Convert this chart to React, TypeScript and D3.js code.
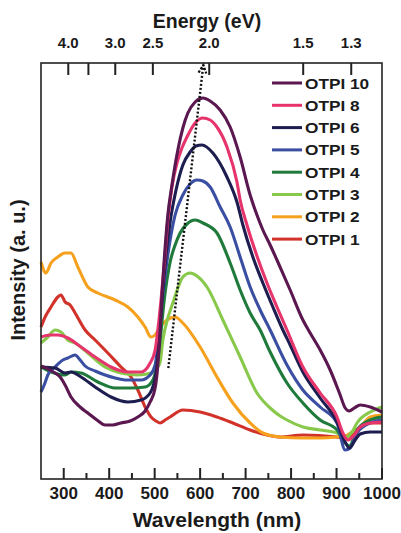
import * as d3 from "d3";

// wavelength (nm) vs intensity (a.u.)
const otpi10 = [[250,113],[270,109],[281,106],[292,102],[303,94],[316,82],[336,72],[353,66],[373,59],[391,54],[408,54],[426,56],[446,58],[463,62],[479,68],[490,77],[501,91],[507,114],[512,149],[516,184],[521,219],[529,264],[538,294],[551,329],[562,351],[573,366],[589,377],[606,381],[622,378],[644,369],[666,352],[688,322],[710,284],[725,264],[738,249],[754,234],[769,219],[798,189],[826,159],[842,146],[864,129],[886,109],[908,84],[919,71],[928,68],[939,71],[952,74],[974,72],[1000,67]];
const otpi8 = [[250,142],[270,144],[287,144],[309,141],[338,132],[369,122],[404,112],[441,107],[470,107],[490,116],[501,129],[507,149],[514,179],[521,214],[529,259],[538,292],[549,316],[560,331],[571,342],[589,356],[606,361],[622,359],[637,352],[659,332],[681,297],[688,279],[703,254],[725,223],[747,196],[769,172],[791,149],[826,112],[864,86],[901,62],[914,46],[925,39],[939,44],[952,52],[974,56],[1000,57]];
const otpi6 = [[250,112],[281,111],[303,106],[316,107],[338,102],[369,92],[404,82],[441,77],[470,79],[490,86],[503,106],[510,139],[516,179],[525,224],[534,257],[547,289],[562,314],[578,327],[591,333],[604,334],[628,326],[659,302],[681,277],[694,254],[716,222],[738,196],[760,172],[782,149],[798,134],[826,107],[864,81],[901,57],[919,37],[928,31],[941,39],[952,45],[974,47],[1000,47]];
const otpi5 = [[250,87],[257,94],[265,104],[281,112],[298,119],[309,121],[325,124],[336,119],[347,113],[369,108],[391,104],[413,101],[435,99],[470,99],[490,104],[501,114],[507,134],[514,169],[523,204],[534,239],[545,264],[562,284],[578,295],[593,299],[606,298],[622,292],[644,272],[666,252],[688,222],[710,192],[732,169],[754,149],[791,114],[826,89],[864,72],[901,56],[919,29],[930,31],[945,46],[974,56],[1000,59]];
const otpi4 = [[250,112],[272,107],[303,104],[316,107],[338,106],[375,97],[413,91],[448,91],[479,92],[496,99],[505,114],[512,139],[521,179],[534,217],[545,234],[556,246],[571,255],[589,259],[606,256],[637,246],[666,216],[688,189],[710,166],[732,149],[754,127],[791,96],[826,76],[864,59],[901,49],[919,36],[928,33],[945,49],[974,59],[1000,62]];
const otpi3 = [[250,136],[265,142],[281,149],[294,147],[309,139],[325,136],[353,126],[391,112],[426,106],[463,104],[492,106],[505,111],[512,117],[518,139],[529,161],[540,176],[551,191],[562,202],[578,206],[593,203],[615,192],[650,159],[688,122],[725,86],[754,71],[776,63],[791,59],[826,52],[864,49],[901,46],[921,42],[934,47],[945,56],[974,67],[1000,72]];
const otpi2 = [[250,217],[261,206],[272,216],[287,222],[303,226],[316,226],[331,212],[353,192],[375,186],[413,179],[441,172],[463,162],[479,152],[492,142],[501,144],[512,152],[527,159],[545,162],[562,156],[600,132],[637,102],[672,76],[710,56],[738,46],[776,42],[826,41],[864,41],[901,42],[919,43],[934,47],[952,52],[974,62],[1000,64]];
const otpi1 = [[250,152],[259,162],[272,172],[287,182],[294,184],[303,177],[314,174],[325,166],[347,149],[369,139],[397,126],[426,112],[448,102],[463,89],[479,72],[492,62],[503,58],[512,56],[523,59],[534,62],[562,69],[600,67],[637,62],[672,56],[710,49],[747,44],[776,42],[826,44],[901,42],[919,41],[934,45],[945,49],[974,56],[1000,56]];

const seriesNames = ["OTPI 10", "OTPI 8", "OTPI 6", "OTPI 5", "OTPI 4", "OTPI 3", "OTPI 2", "OTPI 1"];
const seriesData = [otpi10, otpi8, otpi6, otpi5, otpi4, otpi3, otpi2, otpi1];
const seriesColors = ["#5a1750", "#e6346c", "#1d1d50", "#3a4ea2", "#1f7a3c", "#88c94c", "#f6a11e", "#d1322a"];

const wavelengthTicks = [300, 400, 500, 600, 700, 800, 900, 1000];
const wavelengthMinor = [350, 450, 550, 650, 750, 850, 950];
const energyTicks = [4.0, 3.5, 3.0, 2.5, 2.0, 1.5, 1.33];
const energyLabels = ["4.0", "", "3.0", "2.5", "2.0", "1.5", "1.3"];

// dotted arrow (wavelength, intensity)
const arrowFrom = [530, 111];
const arrowTo = [607, 414];

const W = 401, H = 533;
const m = { left: 41, right: 382, top: 63, bottom: 479 };
const font = "'Liberation Sans', Arial, sans-serif";

export default function App() {
  const x = d3.scaleLinear().domain([250, 1000]).range([m.left, m.right]);
  const y = d3.scaleLinear().domain([0, 416]).range([m.bottom, m.top]);
  const line = d3.line<number[]>()
    .x(d => x(d[0]))
    .y(d => y(d[1]))
    .curve(d3.curveMonotoneX);

  const ax = x(arrowFrom[0]), ay = y(arrowFrom[1]);
  const bx = x(arrowTo[0]), by = y(arrowTo[1]);
  const ang = Math.atan2(by - ay, bx - ax);
  const head = (s: number) => {
    const a = ang + Math.PI + s * 0.45;
    return [bx + 9 * Math.cos(a), by + 9 * Math.sin(a)];
  };
  const h1 = head(1), h2 = head(-1);

  return (
    <svg width={W} height={H} style={{ position: "absolute", left: 0, top: 0, background: "#fff" }}
      fontFamily={font} fontWeight="bold">
      {/* curves, OTPI 1 at the back */}
      {seriesData.map((d, i) => ({ d, i })).reverse().map(({ d, i }) => (
        <path key={seriesNames[i]} d={line(d) || ""} fill="none" stroke={seriesColors[i]}
          strokeWidth={3.1} strokeLinejoin="round" />
      ))}

      {/* dotted arrow */}
      <line x1={ax} y1={ay} x2={bx} y2={by} stroke="#111" strokeWidth={2.4} strokeDasharray="2 2" />
      <polyline points={`${h1[0]},${h1[1]} ${bx},${by} ${h2[0]},${h2[1]}`} fill="none"
        stroke="#111" strokeWidth={2.2} strokeDasharray="2.5 1.5" />

      {/* frame */}
      <rect x={m.left} y={m.top} width={m.right - m.left} height={m.bottom - m.top}
        fill="none" stroke="#222" strokeWidth={1.6} />

      {/* bottom axis */}
      {wavelengthTicks.map(t => (
        <line key={"t" + t} x1={x(t)} x2={x(t)} y1={m.bottom} y2={m.bottom - 11} stroke="#222" strokeWidth={2} />
      ))}
      {wavelengthMinor.map(t => (
        <line key={"m" + t} x1={x(t)} x2={x(t)} y1={m.bottom} y2={m.bottom - 6} stroke="#222" strokeWidth={2} />
      ))}
      {wavelengthTicks.map(t => (
        <text key={"l" + t} x={x(t)} y={499} fontSize={17} textAnchor="middle" fill="#1a1a1a">{t}</text>
      ))}
      <text x={217} y={527} fontSize={21} textAnchor="middle" fill="#1a1a1a">Wavelength (nm)</text>

      {/* top axis: energy */}
      {energyTicks.map(e => (
        <line key={"e" + e} x1={x(1240 / e)} x2={x(1240 / e)} y1={m.top} y2={m.top + 12}
          stroke="#222" strokeWidth={2} />
      ))}
      {energyTicks.map((e, i) => (
        <text key={"el" + e} x={x(1240 / e)} y={48} fontSize={15} textAnchor="middle" fill="#1a1a1a">
          {energyLabels[i]}
        </text>
      ))}
      <text x={207} y={28} fontSize={19.5} textAnchor="middle" fill="#1a1a1a">Energy (eV)</text>

      {/* y label */}
      <text transform={`translate(25,270) rotate(-90)`} fontSize={20} textAnchor="middle" fill="#1a1a1a">
        Intensity (a. u.)
      </text>

      {/* legend */}
      {seriesNames.map((n, i) => {
        const cy = 83 + i * 22.3;
        return (
          <g key={n}>
            <line x1={272} x2={302} y1={cy} y2={cy} stroke={seriesColors[i]} strokeWidth={3} />
            <text transform={`translate(305,${cy + 5.5}) scale(1.15,1)`} fontSize={15} fill="#1a1a1a">{n}</text>
          </g>
        );
      })}
    </svg>
  );
}
